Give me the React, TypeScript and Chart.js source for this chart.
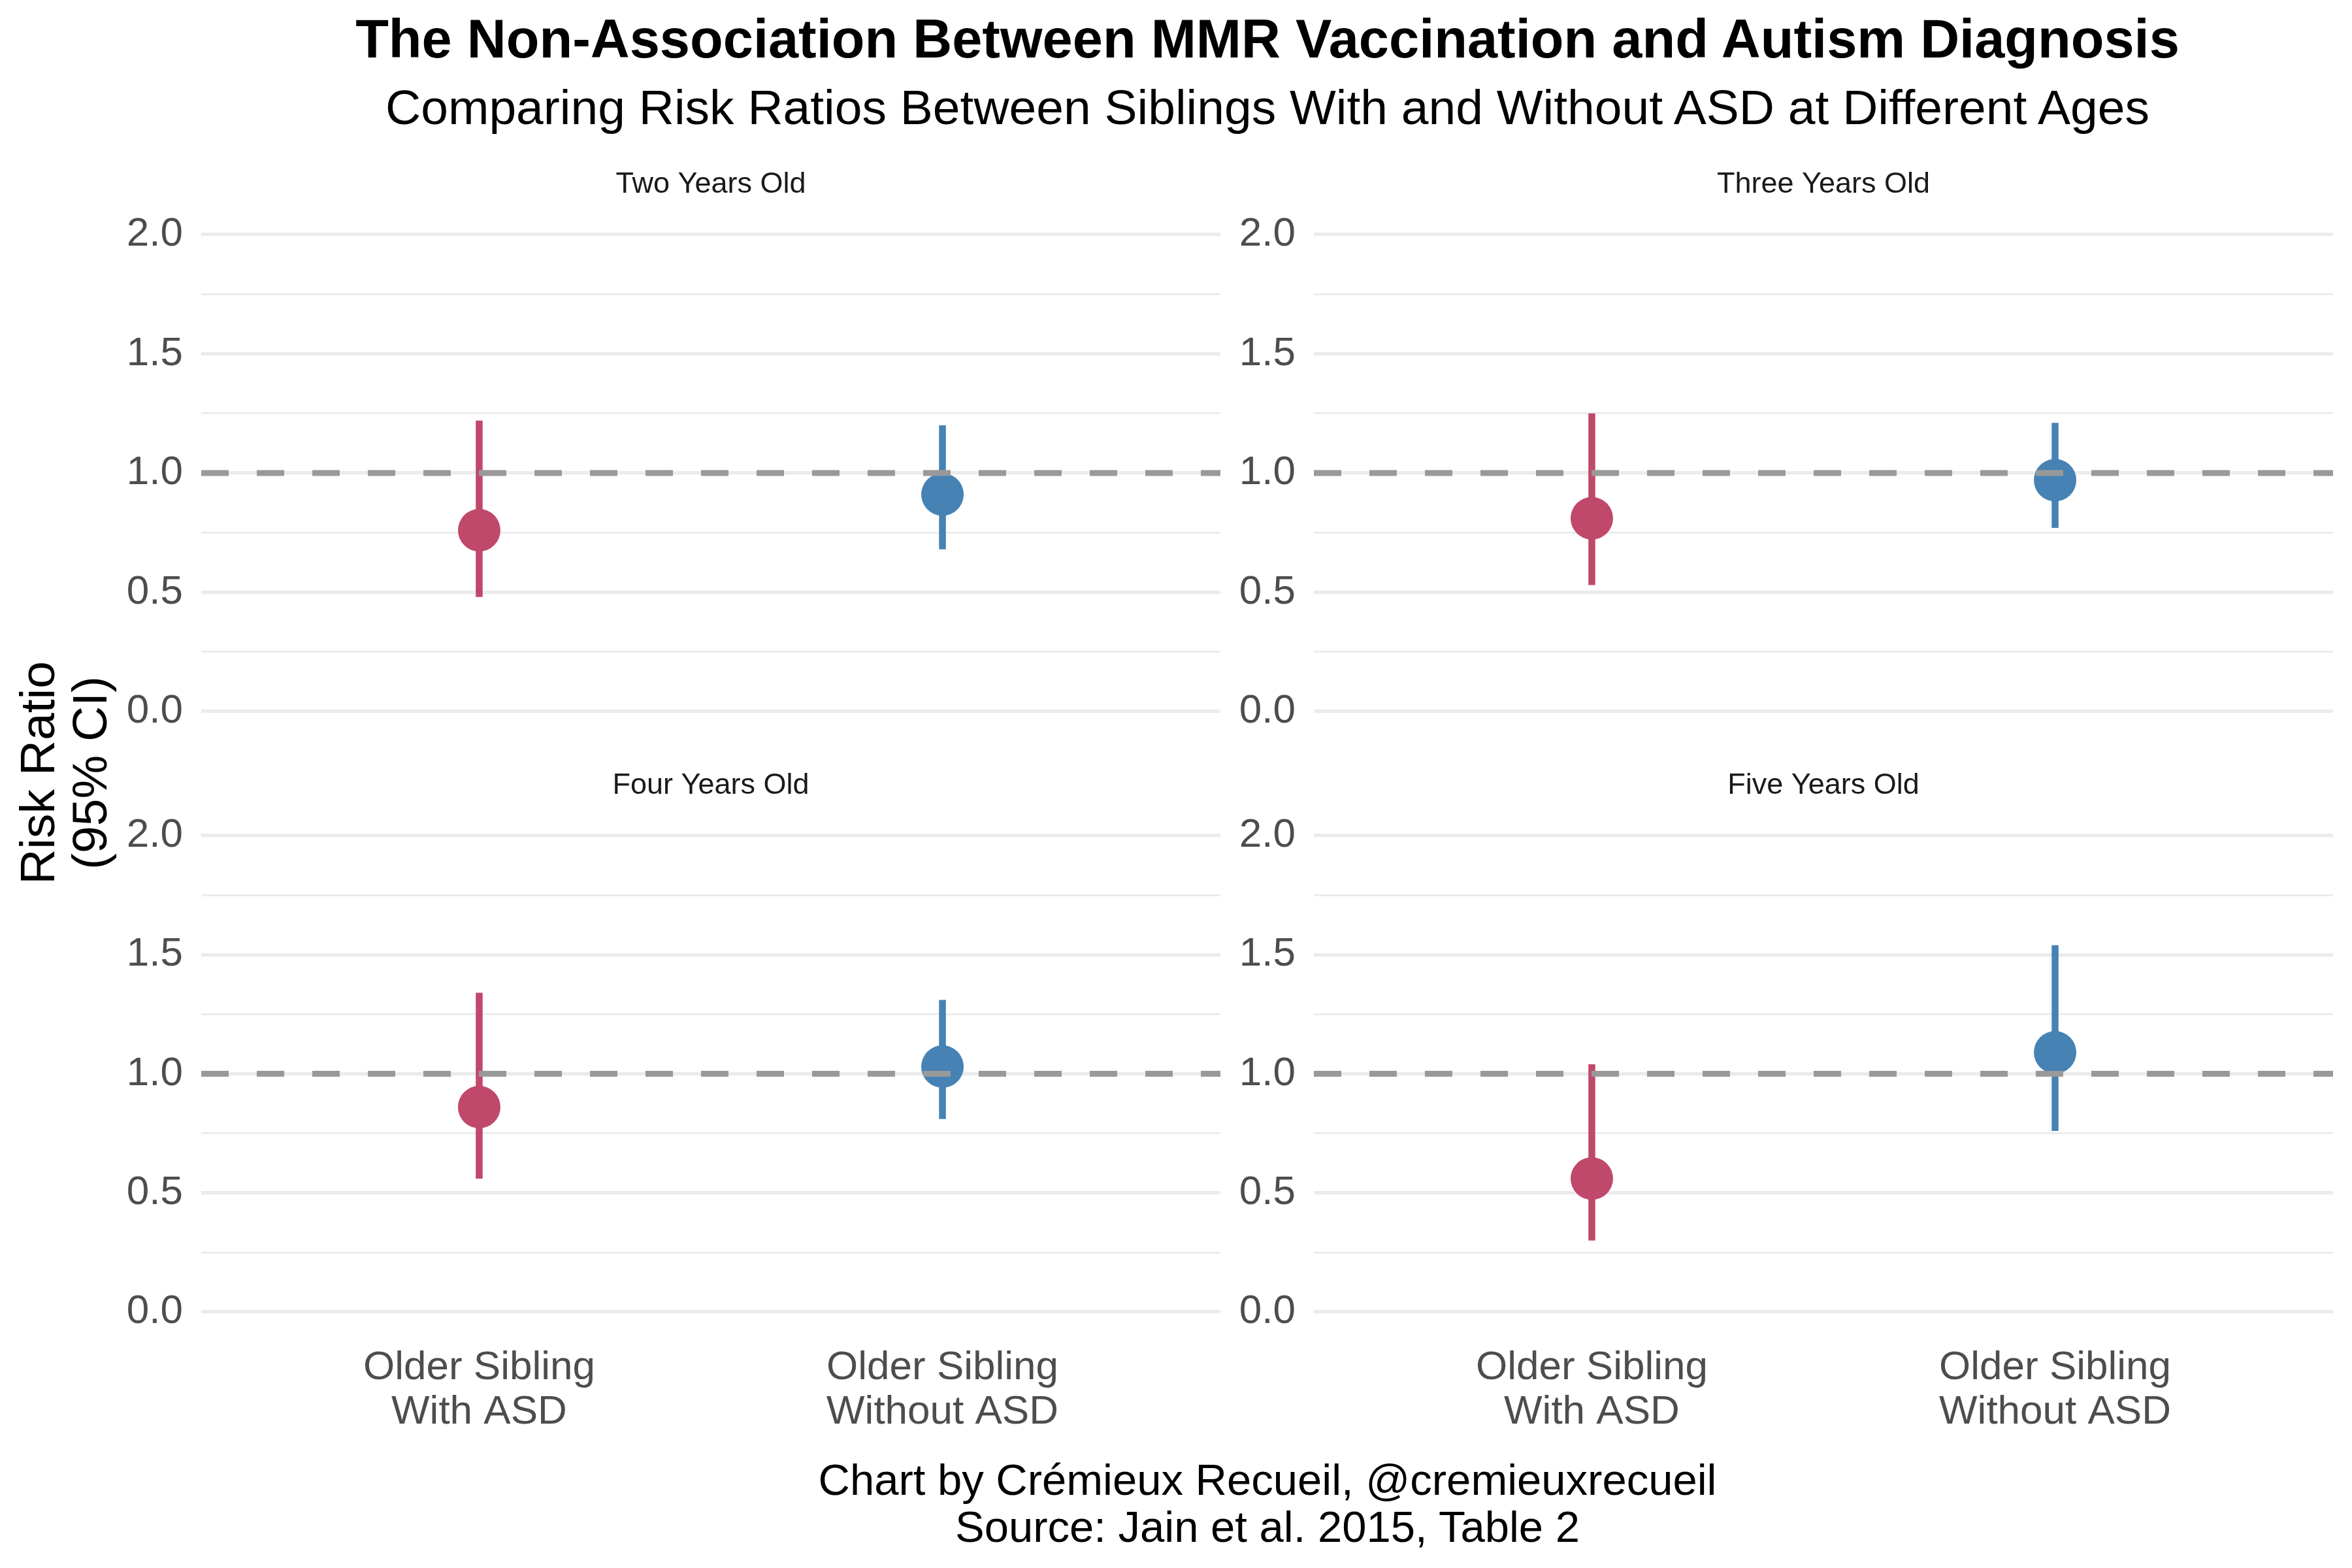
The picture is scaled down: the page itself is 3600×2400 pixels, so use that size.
import React, { useEffect, useRef } from 'react';
import { Chart, registerables } from 'chart.js';

Chart.register(...registerables);

// ---------- data ----------
const ageLabels = ['Two Years Old', 'Three Years Old', 'Four Years Old', 'Five Years Old'];
const groupLabels = [
  ['Older Sibling', 'With ASD'],
  ['Older Sibling', 'Without ASD'],
];
const withAsdRR = [0.76, 0.81, 0.86, 0.56];
const withAsdLower = [0.48, 0.53, 0.56, 0.3];
const withAsdUpper = [1.22, 1.25, 1.34, 1.04];
const withoutAsdRR = [0.91, 0.97, 1.03, 1.09];
const withoutAsdLower = [0.68, 0.77, 0.81, 0.76];
const withoutAsdUpper = [1.2, 1.21, 1.31, 1.54];
const yTickValues = [0, 0.25, 0.5, 0.75, 1, 1.25, 1.5, 1.75, 2];
const referenceValue = 1;

// ---------- styles ----------
const RED = '#C0486A';
const BLUE = '#4682B4';
const FONT = "'Liberation Sans', Arial, Helvetica, sans-serif";

type Geom = {
  left: number;
  top: number;
  width: number;
  height: number;
  yAxisWidth: number;
  padRight: number;
  titlePadTop: number;
  titlePadBottom: number;
  xAxisHeight: number;
  padBottom: number;
  showX: boolean;
};

const geoms: Geom[] = [
  { left: 0, top: 200, width: 1880, height: 1000, yAxisWidth: 308, padRight: 12, titlePadTop: 56, titlePadBottom: 12.5, xAxisHeight: 74.5, padBottom: 0, showX: false },
  { left: 1880, top: 200, width: 1720, height: 1000, yAxisWidth: 131, padRight: 29, titlePadTop: 56, titlePadBottom: 12.5, xAxisHeight: 74.5, padBottom: 0, showX: false },
  { left: 0, top: 1130, width: 1880, height: 1100, yAxisWidth: 308, padRight: 12, titlePadTop: 46, titlePadBottom: 12.5, xAxisHeight: 160, padBottom: 25.5, showX: true },
  { left: 1880, top: 1130, width: 1720, height: 1100, yAxisWidth: 131, padRight: 29, titlePadTop: 46, titlePadBottom: 12.5, xAxisHeight: 160, padBottom: 25.5, showX: true },
];

function Panel({ index }: { index: number }) {
  const ref = useRef<HTMLCanvasElement | null>(null);
  const g = geoms[index];

  useEffect(() => {
    if (!ref.current) return;
    const xs = [1, 2];
    const chart = new Chart(ref.current, {
      type: 'scatter',
      data: {
        datasets: [
          {
            label: 'reference',
            data: [
              { x: 0.4, y: referenceValue },
              { x: 2.6, y: referenceValue },
            ],
            showLine: true,
            borderColor: '#999999',
            borderWidth: 9,
            borderDash: [42, 43],
            pointRadius: 0,
            order: 0,
          } as any,
          {
            label: 'rr',
            data: [
              { x: xs[0], y: withAsdRR[index] },
              { x: xs[1], y: withoutAsdRR[index] },
            ],
            showLine: false,
            pointRadius: 32.5,
            pointBorderWidth: 0,
            pointBackgroundColor: [RED, BLUE],
            pointBorderColor: [RED, BLUE],
            order: 1,
          } as any,
          {
            label: 'ci-with',
            data: [
              { x: xs[0], y: withAsdLower[index] },
              { x: xs[0], y: withAsdUpper[index] },
            ],
            showLine: true,
            borderColor: RED,
            borderWidth: 10.5,
            borderCapStyle: 'butt',
            pointRadius: 0,
            order: 2,
          } as any,
          {
            label: 'ci-without',
            data: [
              { x: xs[1], y: withoutAsdLower[index] },
              { x: xs[1], y: withoutAsdUpper[index] },
            ],
            showLine: true,
            borderColor: BLUE,
            borderWidth: 10.5,
            borderCapStyle: 'butt',
            pointRadius: 0,
            order: 2,
          } as any,
        ],
      },
      options: {
        animation: false,
        responsive: false,
        devicePixelRatio: 1,
        events: [],
        layout: {
          autoPadding: false,
          padding: { left: 0, right: g.padRight, top: 0, bottom: g.padBottom },
        },
        plugins: {
          legend: { display: false },
          tooltip: { enabled: false },
          title: {
            display: true,
            text: ageLabels[index],
            fullSize: false,
            position: 'top',
            color: '#1A1A1A',
            font: { family: FONT, size: 45, weight: 'normal', lineHeight: 1.2 },
            padding: { top: g.titlePadTop, bottom: g.titlePadBottom },
          },
        },
        scales: {
          x: {
            type: 'linear',
            min: 0.4,
            max: 2.6,
            grid: { display: false, drawTicks: false },
            border: { display: false },
            afterBuildTicks: (scale: any) => {
              scale.ticks = xs.map((v) => ({ value: v }));
            },
            afterFit: (scale: any) => {
              scale.height = g.xAxisHeight;
            },
            ticks: {
              display: g.showX,
              padding: 15,
              color: '#4D4D4D',
              font: { family: FONT, size: 62, lineHeight: 1.1 },
              maxRotation: 0,
              minRotation: 0,
              autoSkip: false,
              callback: (v: any) => groupLabels[Math.round(Number(v)) - 1] as any,
            },
          },
          y: {
            type: 'linear',
            min: -0.1,
            max: 2.1,
            border: { display: false },
            afterBuildTicks: (scale: any) => {
              scale.ticks = yTickValues.map((v) => ({ value: v }));
            },
            afterFit: (scale: any) => {
              scale.width = g.yAxisWidth;
            },
            grid: {
              drawTicks: false,
              color: '#EBEBEB',
              lineWidth: (ctx: any) => {
                const v = ctx.tick ? ctx.tick.value : 0;
                return Math.round(v * 4) % 2 === 0 ? 5.3 : 2.7;
              },
            },
            ticks: {
              padding: 28,
              color: '#4D4D4D',
              font: { family: FONT, size: 62 },
              autoSkip: false,
              callback: (v: any) => {
                const n = Number(v);
                return Math.round(n * 4) % 2 === 0 ? n.toFixed(1) : '';
              },
            },
          },
        },
      } as any,
    });
    return () => chart.destroy();
  }, [index]);

  return (
    <canvas
      ref={ref}
      width={g.width}
      height={g.height}
      style={{ position: 'absolute', left: g.left, top: g.top, width: g.width, height: g.height }}
    />
  );
}

export default function App() {
  useEffect(() => {
    document.body.style.margin = '0';
  }, []);

  const textBase: React.CSSProperties = {
    position: 'absolute',
    fontFamily: FONT,
    color: '#000000',
    textAlign: 'center',
    whiteSpace: 'nowrap',
  };

  return (
    <div
      style={{
        position: 'absolute',
        left: 0,
        top: 0,
        width: 3600,
        height: 2400,
        background: '#FFFFFF',
        overflow: 'hidden',
      }}
    >
      <div style={{ ...textBase, left: 440, width: 3000, top: 18, fontSize: 83, lineHeight: '83px', fontWeight: 'bold' }}>
        The Non-Association Between MMR Vaccination and Autism Diagnosis
      </div>
      <div style={{ ...textBase, left: 440, width: 3000, top: 126.5, fontSize: 75, lineHeight: '75px' }}>
        Comparing Risk Ratios Between Siblings With and Without ASD at Different Ages
      </div>
      {geoms.map((_, i) => (
        <Panel key={i} index={i} />
      ))}
      <div
        style={{
          ...textBase,
          left: 97 - 400,
          top: 1183 - 80,
          width: 800,
          height: 160,
          fontSize: 75,
          lineHeight: '80px',
          transform: 'rotate(-90deg)',
          transformOrigin: '50% 50%',
        }}
      >
        Risk Ratio
        <br />
        (95% CI)
      </div>
      <div style={{ ...textBase, left: 440, width: 3000, top: 2228.8, fontSize: 67, lineHeight: '72px' }}>
        Chart by Crémieux Recueil, @cremieuxrecueil
        <br />
        Source: Jain et al. 2015, Table 2
      </div>
    </div>
  );
}
